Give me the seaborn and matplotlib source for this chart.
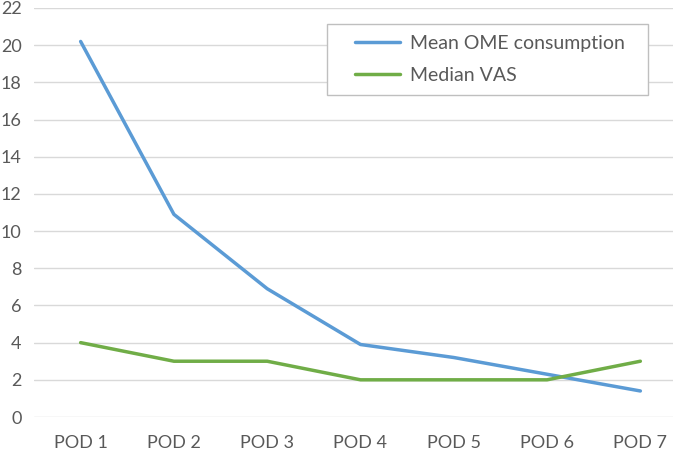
import matplotlib
matplotlib.use("Agg")
import matplotlib.pyplot as plt
from matplotlib.patches import Rectangle
import seaborn as sns
import pandas as pd

days = ["POD 1", "POD 2", "POD 3", "POD 4", "POD 5", "POD 6", "POD 7"]
mean_ome = [20.2, 10.9, 6.9, 3.9, 3.2, 2.3, 1.4]
median_vas = [4, 3, 3, 2, 2, 2, 3]
series_names = ["Mean OME consumption", "Median VAS"]
colors = ["#5b9bd5", "#70ad47"]

df = pd.DataFrame({
    "day": days * 2,
    "value": mean_ome + median_vas,
    "series": [series_names[0]] * len(days) + [series_names[1]] * len(days),
})

sns.set_style("white")
plt.rcParams["font.family"] = ["Lato", "DejaVu Sans"]

W, H = 673, 453
fig = plt.figure(figsize=(W / 100, H / 100), dpi=100)
ax = fig.add_axes([34 / W, 1 - 417 / H, 1 - 34 / W, (417 - 8) / H])

sns.lineplot(data=df, x="day", y="value", hue="series", palette=colors,
             linewidth=2.5, sort=False, ax=ax)

ax.set_ylim(0, 22)
ax.set_yticks(range(0, 23, 2))
ax.set_xlim(-0.5, 6.35)
ax.grid(axis="y", color="#d9d9d9", linewidth=1)
ax.set_axisbelow(True)
for s in ax.spines.values():
    s.set_visible(False)
ax.set_xlabel("")
ax.set_ylabel("")
ax.tick_params(axis="both", length=0, labelsize=13, colors="#595959")
ax.tick_params(axis="y", pad=9)
ax.tick_params(axis="x", pad=13)

# legend box (excel style, extra left inset)
box = Rectangle((327 / W, 1 - 95 / H), (648 - 327) / W, (95 - 24) / H,
                transform=fig.transFigure, facecolor="white",
                edgecolor="#bfbfbf", linewidth=1, zorder=3, clip_on=False)
ax.add_patch(box)

leg = ax.legend(loc="upper left", bbox_to_anchor=(355 / W, 1 - 35 / H),
                bbox_transform=fig.transFigure, frameon=False,
                fontsize=14, handlelength=2.3, borderpad=0,
                labelspacing=0.78, handletextpad=0.55, borderaxespad=0)
leg.set_zorder(4)
for t in leg.get_texts():
    t.set_color("#595959")

fig.savefig("out.png", dpi=100)
